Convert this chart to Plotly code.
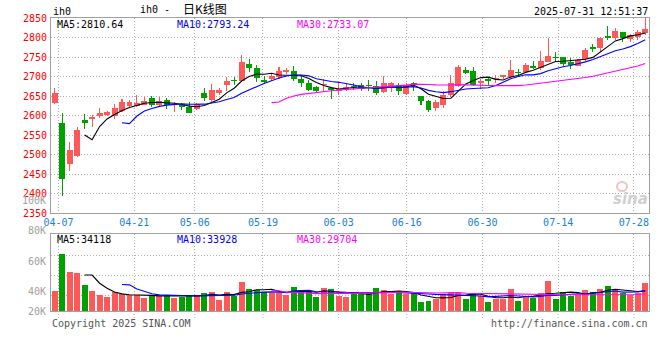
import plotly.graph_objects as go
import pandas as pd

dates = ["04-03","04-07","04-08","04-09","04-10","04-11","04-14","04-15","04-16","04-17","04-18",
         "04-21","04-22","04-23","04-24","04-25","04-28","04-29","04-30",
         "05-06","05-07","05-08","05-09","05-12","05-13","05-14","05-15","05-16","05-19","05-20",
         "05-21","05-22","05-23","05-26","05-27","05-28","05-29","05-30",
         "06-03","06-04","06-05","06-06","06-09","06-10","06-11","06-12","06-13","06-16","06-17",
         "06-18","06-19","06-20","06-23","06-24","06-25","06-26","06-27","06-30",
         "07-01","07-02","07-03","07-04","07-07","07-08","07-09","07-10","07-11","07-14","07-15",
         "07-16","07-17","07-18","07-21","07-22","07-23","07-24","07-25","07-28","07-29","07-30"]

opens  = [2633,2582,2477,2496,2590,2592,2599,2602,2599,2611,2625,2625,2628,2645,2628,2640,2626,2628,2623,2618,
          2658,2640,2657,2678,2692,2688,2733,2722,2692,2694,2700,2711,2715,2693,2684,2674,2678,2670,2664,2666,
          2677,2679,2679,2676,2660,2671,2679,2655,2684,2650,2638,2619,2628,2653,2677,2717,2715,2683,2693,2693,
          2700,2700,2711,2712,2726,2721,2738,2750,2750,2738,2728,2745,2776,2772,2803,2798,2813,2796,2801,2811]
highs  = [2671,2606,2532,2571,2604,2602,2619,2612,2630,2643,2640,2652,2648,2650,2648,2645,2634,2633,2634,2633,
          2670,2681,2671,2698,2700,2756,2745,2729,2701,2708,2725,2723,2727,2703,2691,2677,2693,2671,2683,2683,
          2683,2684,2691,2688,2701,2686,2683,2683,2685,2651,2639,2640,2664,2705,2729,2725,2725,2694,2700,2705,
          2705,2742,2719,2734,2740,2765,2800,2764,2751,2748,2744,2772,2783,2801,2829,2824,2814,2810,2820,2849]
lows   = [2630,2395,2458,2493,2566,2571,2595,2599,2592,2609,2623,2621,2626,2622,2624,2617,2609,2614,2606,2615,
          2638,2632,2654,2664,2679,2686,2712,2686,2681,2688,2694,2706,2688,2674,2662,2660,2660,2643,2653,2662,
          2666,2664,2664,2652,2657,2660,2653,2653,2664,2626,2609,2612,2619,2648,2674,2706,2676,2667,2679,2683,
          2694,2696,2700,2710,2719,2717,2737,2738,2728,2719,2726,2741,2762,2762,2794,2794,2788,2789,2793,2806]
closes = [2658,2438,2511,2563,2582,2597,2607,2609,2619,2635,2635,2633,2637,2628,2638,2628,2628,2621,2607,2629,
          2645,2665,2665,2688,2688,2737,2722,2696,2687,2701,2715,2718,2693,2684,2666,2663,2681,2665,2667,2674,
          2674,2669,2676,2659,2684,2684,2664,2679,2680,2638,2614,2635,2652,2684,2725,2710,2679,2689,2690,2696,
          2703,2717,2708,2730,2723,2741,2753,2747,2733,2730,2743,2769,2771,2800,2800,2817,2798,2806,2815,2822]
volumes = [33300,58000,46000,45300,37300,33300,30700,29300,32400,31300,30700,30700,28900,30400,29800,30700,
           28900,29300,30700,30700,32000,32700,27300,32700,30000,39300,34700,34000,32700,32000,32000,30700,
           36000,34000,32700,29300,35300,34700,30200,29600,31300,31300,32700,35300,34000,31300,33300,31300,
           31800,25800,27000,28300,31000,33000,32300,28300,32300,29700,26300,27900,27900,35000,27000,30300,
           28600,32300,39700,28300,33000,29700,30700,34000,32900,34700,36700,34000,31800,30700,31800,38700]

tick_labels = ["04-07","04-21","05-06","05-19","06-03","06-16","06-30","07-14","07-28"]
price_ticks = [2350,2400,2450,2500,2550,2600,2650,2700,2750,2800,2850]
vol_labels = ["100K","80K","60K","40K","20K"]
header_title = "ih0"
chart_name = "日K线图"
timestamp = "2025-07-31 12:51:37"
ma_texts = ["MA5:2810.64", "MA10:2793.24", "MA30:2733.07"]
vol_ma_texts = ["MA5:34118", "MA10:33928", "MA30:29704"]

RED = "#ff5858"
GREEN = "#00a000"
MA_COLORS = ["#000000", "#0000ff", "#ff00ff"]
MONO = "DejaVu Sans Mono"
W, H = 660, 360
ML, MR, MT, MB = 51, 11, 18, 49
PH = H - MT - MB
PW = W - ML - MR

def py(ypx):
    return (H - MB - ypx) / PH

def px(xpx):
    return (xpx - ML) / PW

n = len(dates)
x = list(range(n))
colors = [RED if c >= o else GREEN for o, c in zip(opens, closes)]
body_base = [min(o, c) for o, c in zip(opens, closes)]
body_h = [max(abs(c - o), 2.6) for o, c in zip(opens, closes)]
wick_h = [h - l for h, l in zip(highs, lows)]

grid_vals = [-0.5 + dates.index(t) * n / (n - 1) for t in tick_labels]

fig = go.Figure()
fig.add_trace(go.Bar(x=x, y=wick_h, base=lows, width=0.14, marker=dict(color=colors, line_width=0),
                     xaxis="x", yaxis="y"))
fig.add_trace(go.Bar(x=x, y=body_h, base=body_base, width=0.8, marker=dict(color=colors, line_width=0),
                     xaxis="x", yaxis="y"))

cs = pd.Series(closes, dtype=float)
for w, col in zip([5, 10, 30], MA_COLORS):
    ma = cs.rolling(w).mean()
    fig.add_trace(go.Scatter(x=x, y=[None if pd.isna(v) else v for v in ma], mode="lines",
                             line=dict(color=col, width=1.1), xaxis="x", yaxis="y"))

fig.add_trace(go.Bar(x=x, y=volumes, width=0.8, marker=dict(color=colors, line_width=0),
                     xaxis="x2", yaxis="y2"))
vs = pd.Series(volumes, dtype=float)
for w, col in zip([5, 10, 30], MA_COLORS):
    ma = vs.rolling(w).mean()
    fig.add_trace(go.Scatter(x=x, y=[None if pd.isna(v) else v for v in ma], mode="lines",
                             line=dict(color=col, width=1.1), xaxis="x2", yaxis="y2"))

main_bottom_px = 213.3
vol_top_px = 234.3
vol_lo = 20000
vol_hi = vol_lo + (H - MB - vol_top_px) / 1.5 * 1000
vol_grid = [vol_lo + (H - MB - g) / 1.5 * 1000 for g in (255.7, 275.7, 295.7)]

grid_common = dict(showgrid=True, gridcolor="#b0b0b0", griddash="1px,2px", gridwidth=1,
                   zeroline=False, showline=True, mirror=True, linecolor="#a0a0a0", linewidth=1,
                   ticks="", fixedrange=True, automargin=False)

fig.update_layout(
    width=W, height=H, margin=dict(l=ML, r=MR, t=MT, b=MB, autoexpand=False),
    paper_bgcolor="white", plot_bgcolor="white",
    showlegend=False, hovermode=False, barmode="overlay", bargap=0,
    font=dict(family=MONO, size=10, color="#000"),
    xaxis=dict(domain=[0, 1], range=[-0.5, n - 0.5], anchor="y", tickmode="array",
               tickvals=grid_vals, ticktext=tick_labels,
               tickfont=dict(family=MONO, size=10, color="#1a7fd6"), **grid_common),
    yaxis=dict(domain=[py(main_bottom_px), 1], range=[2350, 2850], anchor="x",
               tickmode="array", tickvals=price_ticks, ticklabelstandoff=1,
               tickfont=dict(family=MONO, size=10, color="#ff0000"), **grid_common),
    xaxis2=dict(domain=[0, 1], range=[-0.5, n - 0.5], anchor="y2", matches="x",
                tickmode="array", tickvals=grid_vals, showticklabels=False, **grid_common),
    yaxis2=dict(domain=[0, py(vol_top_px)], range=[vol_lo, vol_hi], anchor="x2",
                tickmode="array", tickvals=vol_grid, showticklabels=False, **grid_common),
)

ann = []
def text(t, xpx, ypx, anchor="left", color="#000", size=10, family=MONO):
    ann.append(dict(text=t, x=px(xpx), y=py(ypx), xref="paper", yref="paper",
                    xanchor=anchor, yanchor="middle", showarrow=False,
                    font=dict(family=family, size=size, color=color)))

text(header_title, 51, 12)
text(header_title + " -", 172, 9.5, anchor="right")
text(chart_name, 181, 9, family="Noto Sans CJK SC", size=12)
text(timestamp, 650, 11.5, anchor="right")
for t, xp, col in zip(ma_texts, [55, 175, 295], MA_COLORS):
    text(t, xp, 24.5, color=col)
for t, xp, col in zip(vol_ma_texts, [55, 175, 295], MA_COLORS):
    text(t, xp, 239.5, color=col)
for k, t in enumerate(vol_labels):
    text(t, 47.5, min(200.5 + 30.3 * k, 311.5), anchor="right", color="#a0a0a0")
text("Copyright 2025 SINA.COM", 50, 323.5, color="#555")
text("http://finance.sina.com.cn", 650, 323.5, anchor="right", color="#555")
text("<b><i>sina</i></b>", 630, 199, anchor="center", color="#d0d0d0", size=15, family="DejaVu Sans")

fig.update_layout(annotations=ann)

shapes = []
for g in grid_vals:
    shapes.append(dict(type="line", xref="x2", yref="paper", x0=g, x1=g, y0=0, y1=py(320),
                       line=dict(color="#b0b0b0", width=1, dash="1px,2px")))
# sina eye logo (graphic)
shapes.append(dict(type="circle", xref="paper", yref="paper", x0=px(617), x1=px(627),
                   y0=py(191), y1=py(182), line=dict(color="#f2c4c4", width=2)))
fig.update_layout(shapes=shapes)

fig.write_html("out.html", config={"displayModeBar": False, "staticPlot": True},
               post_script="document.body.style.margin='0';document.body.style.padding='0';")
